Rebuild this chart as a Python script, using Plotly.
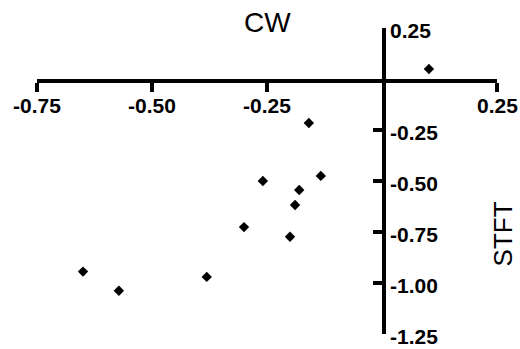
import plotly.graph_objects as go

# CW vs STFT values
cw = [0.102, -0.159, -0.133, -0.259, -0.180, -0.189, -0.300, -0.200, -0.650, -0.572, -0.381]
stft = [0.049, -0.216, -0.475, -0.500, -0.544, -0.618, -0.726, -0.773, -0.944, -1.038, -0.970]

x_ticks = [-0.75, -0.50, -0.25, 0.25]
x_tick_text = ["-0.75", "-0.50", "-0.25", "0.25"]
y_ticks = [0.25, -0.25, -0.50, -0.75, -1.00, -1.25]
y_tick_text = ["0.25", "-0.25", "-0.50", "-0.75", "-1.00", "-1.25"]

x_range = [-0.75, 0.25]
y_range = [-1.25, 0.25]

FONT = "Liberation Sans"

# fractions of the plot area where the zero lines fall
x_zero = (0 - x_range[0]) / (x_range[1] - x_range[0])
y_zero = (0 - y_range[0]) / (y_range[1] - y_range[0])

fig = go.Figure()
fig.add_trace(go.Scatter(
    x=cw, y=stft, mode="markers",
    marker=dict(symbol="diamond", size=8, color="black"),
    showlegend=False,
))
# empty traces that register the hidden helper axes
fig.add_trace(go.Scatter(x=[], y=[], xaxis="x2", yaxis="y", showlegend=False, hoverinfo="skip"))
fig.add_trace(go.Scatter(x=[], y=[], xaxis="x", yaxis="y2", showlegend=False, hoverinfo="skip"))

label_font = dict(family=FONT, size=21, color="black", weight="bold")

# bold tick labels placed at the tick values on the crossing axes
tick_labels = []
for v, t in zip(x_ticks, x_tick_text):
    tick_labels.append(dict(text=t, xref="x", yref="y", x=v, y=0, showarrow=False,
                            xanchor="center", yanchor="middle", yshift=-26.5,
                            font=label_font))
for v, t in zip(y_ticks, y_tick_text):
    tick_labels.append(dict(text=t, xref="x", yref="y", x=0, y=v, showarrow=False,
                            xanchor="left", yanchor="middle", xshift=6, yshift=-2,
                            font=label_font))

titles = [
    dict(text="CW", xref="paper", yref="paper", x=0.502, y=1.018,
         showarrow=False, xanchor="center", yanchor="middle",
         font=dict(family=FONT, size=28, color="black")),
    dict(text="STFT", xref="paper", yref="paper", x=1.012, y=0.327,
         showarrow=False, xanchor="center", yanchor="middle", textangle=-90,
         borderpad=0,
         font=dict(family=FONT, size=26, color="black")),
]

# axes cross at the origin: each visible axis is anchored to a hidden helper
# axis whose domain edge sits on the other axis' zero
fig.update_layout(
    width=520, height=349,
    margin=dict(l=37, r=23, t=28, b=15),
    plot_bgcolor="rgba(0,0,0,0)", paper_bgcolor="white",
    font=dict(family=FONT, color="black"),
    xaxis=dict(
        range=x_range, domain=[0, 1], anchor="y2",
        showgrid=False, zeroline=False, automargin=False,
        showline=True, linecolor="black", linewidth=4,
        side="bottom", ticks="outside", ticklen=9, tickwidth=4, tickcolor="black",
        tickvals=x_ticks, showticklabels=False,
    ),
    yaxis=dict(
        range=y_range, domain=[0, 1], anchor="x2",
        showgrid=False, zeroline=False, automargin=False,
        showline=True, linecolor="black", linewidth=4,
        side="right", ticks="inside", ticklen=9, tickwidth=4, tickcolor="black",
        tickvals=y_ticks, showticklabels=False,
    ),
    xaxis2=dict(domain=[0, x_zero], anchor="y", visible=False, range=[0, 1],
                showgrid=False, zeroline=False),
    yaxis2=dict(domain=[y_zero, 1], anchor="x", visible=False, range=[0, 1],
                showgrid=False, zeroline=False),
    annotations=tick_labels + titles,
)

fig.write_html("out.html")
